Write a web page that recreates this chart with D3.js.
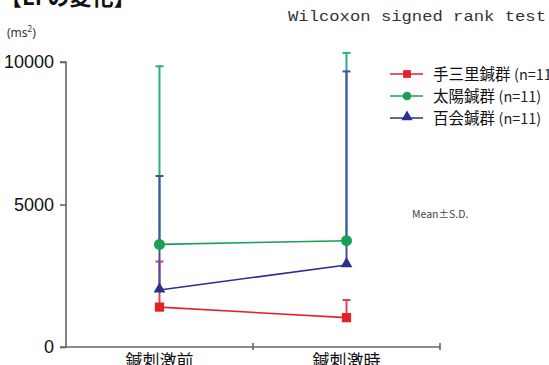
<!DOCTYPE html>
<html>
<head>
<meta charset="utf-8">
<script src="https://cdn.jsdelivr.net/npm/d3@7/dist/d3.min.js"></script>
<style>
  html, body { margin: 0; padding: 0; background: #fff; }
  svg { display: block; }
</style>
</head>
<body>
<svg id="chart" width="549" height="365"></svg>
<script>
// Timepoints on the x axis
const categories = ["鍼刺激前", "鍼刺激時"];
// Groups (legend order)
const groupNames = ["手三里鍼群", "太陽鍼群", "百会鍼群"];
const groupN = ["(n=11)", "(n=11)", "(n=11)"];
// Means per timepoint (ms²)
const meanTesanri = [1400, 1030];
const meanTaiyo = [3600, 3730];
const meanHyakue = [2000, 2880];
// Standard deviations per timepoint (ms²)
const sdTesanri = [1600, 620];
const sdTaiyo = [6250, 6590];
const sdHyakue = [4000, 6790];
// Y axis ticks
const yTicks = [0, 5000, 10000];

const groups = [
  { name: groupNames[0], n: groupN[0], mean: meanTesanri, sd: sdTesanri, color: "#e3212b", sdColor: "#e2404f", shape: "square" },
  { name: groupNames[1], n: groupN[1], mean: meanTaiyo, sd: sdTaiyo, color: "#18a055", sdColor: "#22b07c", shape: "circle" },
  { name: groupNames[2], n: groupN[2], mean: meanHyakue, sd: sdHyakue, color: "#2c2f8e", sdColor: "#4a4f9e", shape: "triangle" }
];

const svg = d3.select("#chart");
const plot = { left: 66, right: 440, top: 62, bottom: 347 };

const x = d3.scaleBand().domain(categories).range([plot.left, plot.right]).padding(0);
const y = d3.scaleLinear().domain([0, 10000]).range([plot.bottom, plot.top]);
const cx = c => x(c) + x.bandwidth() / 2;

// Heading (runs off the top edge)
svg.append("text")
  .attr("x", 0).attr("y", 5)
  .attr("font-family", "'Noto Sans CJK JP', sans-serif")
  .attr("font-weight", "bold").attr("font-size", 22)
  .attr("fill", "#111")
  .text("【LFの変化】");

svg.append("text")
  .attr("x", 288).attr("y", 21)
  .attr("font-family", "'Liberation Mono', 'DejaVu Sans Mono', monospace")
  .attr("font-size", 15)
  .attr("fill", "#333")
  .attr("textLength", 258).attr("lengthAdjust", "spacingAndGlyphs")
  .text("Wilcoxon signed rank test");

// Unit label
const unit = svg.append("text")
  .attr("x", 7).attr("y", 37)
  .attr("font-family", "'Noto Sans', sans-serif")
  .attr("font-size", 12).attr("fill", "#333");
unit.append("tspan").text("(ms");
unit.append("tspan").attr("font-size", 8).attr("dy", -5).text("2");
unit.append("tspan").attr("dy", 5).text(")");

// Y axis
const yAxis = d3.axisLeft(y).tickValues(yTicks).tickSize(6).tickPadding(6).tickFormat(d3.format("d"));
const gy = svg.append("g").attr("transform", `translate(${plot.left},0)`).call(yAxis);
gy.select(".domain").attr("d", `M-6,${plot.top}H0V${plot.bottom}`).attr("stroke", "#666").attr("stroke-width", 1.6);
gy.selectAll(".tick line").attr("stroke", "#666").attr("stroke-width", 1.6);
gy.selectAll(".tick text")
  .attr("font-family", "'Liberation Sans', Arial, sans-serif")
  .attr("font-size", 18).attr("fill", "#111");

// X axis
const xAxis = d3.axisBottom(x).tickSize(0).tickPadding(8);
const gx = svg.append("g").attr("transform", `translate(0,${plot.bottom})`).call(xAxis);
gx.select(".domain").attr("d", `M${plot.left - 6},0H${plot.right}`).attr("stroke", "#666").attr("stroke-width", 1.6);
gx.selectAll(".tick text")
  .attr("font-family", "'Noto Sans CJK JP', sans-serif")
  .attr("font-size", 17).attr("fill", "#111");
// Band boundary ticks
gx.selectAll(".sep").data(categories.slice(1).concat(["_end"]))
  .enter().append("line")
  .attr("x1", (d, i) => i < categories.length - 1 ? x(d) : plot.right)
  .attr("x2", (d, i) => i < categories.length - 1 ? x(d) : plot.right)
  .attr("y1", -4).attr("y2", 3)
  .attr("stroke", "#666").attr("stroke-width", 1.6);

// Error bars (upper SD only)
groups.forEach(g => {
  const eb = svg.append("g");
  categories.forEach((c, i) => {
    const top = y(g.mean[i] + g.sd[i]);
    eb.append("line")
      .attr("x1", cx(c)).attr("x2", cx(c))
      .attr("y1", y(g.mean[i])).attr("y2", top)
      .attr("stroke", g.sdColor).attr("stroke-width", 2);
    eb.append("line")
      .attr("x1", cx(c) - 4).attr("x2", cx(c) + 4)
      .attr("y1", top).attr("y2", top)
      .attr("stroke", g.sdColor).attr("stroke-width", 2);
  });
});

const symbolFor = s => s === "square" ? d3.symbolSquare : s === "circle" ? d3.symbolCircle : d3.symbolTriangle;
const symbolSize = s => s === "square" ? 85 : s === "circle" ? 95 : 60;

// Mean lines and markers
const line = d3.line().x(d => cx(d.c)).y(d => y(d.v));
groups.forEach(g => {
  const pts = categories.map((c, i) => ({ c, v: g.mean[i] }));
  svg.append("path").datum(pts)
    .attr("d", line).attr("fill", "none")
    .attr("stroke", g.color).attr("stroke-width", 1.6);
  svg.selectAll(null).data(pts).enter().append("path")
    .attr("transform", d => `translate(${cx(d.c)},${y(d.v) + (g.shape === "triangle" ? -1 : 0)})`)
    .attr("d", d3.symbol().type(symbolFor(g.shape)).size(symbolSize(g.shape)))
    .attr("fill", g.color);
});

// Legend
const legend = svg.append("g");
groups.forEach((g, i) => {
  const ly = 74 + i * 22;
  legend.append("line").attr("x1", 390).attr("x2", 423).attr("y1", ly).attr("y2", ly)
    .attr("stroke", g.color).attr("stroke-width", 1.6);
  legend.append("path")
    .attr("transform", `translate(407,${ly + (g.shape === "triangle" ? -1 : 0)})`)
    .attr("d", d3.symbol().type(symbolFor(g.shape)).size(g.shape === "triangle" ? 55 : 60))
    .attr("fill", g.color);
  const t = legend.append("text").attr("x", 433).attr("y", ly + 5.5)
    .attr("font-family", "'Noto Sans CJK JP', sans-serif").attr("fill", "#111");
  t.append("tspan").attr("font-size", 15.5).text(g.name + " ");
  t.append("tspan").attr("font-size", 14.5).attr("fill", "#222").text(g.n);
});

svg.append("text")
  .attr("x", 412).attr("y", 218)
  .attr("font-family", "'Noto Sans CJK JP', sans-serif")
  .attr("font-size", 10.5).attr("fill", "#444")
  .text("Mean±S.D.");
</script>
</body>
</html>
